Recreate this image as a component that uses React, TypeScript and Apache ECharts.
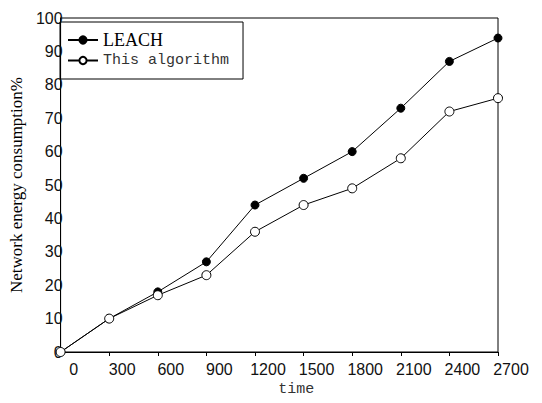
import React, { useEffect, useRef } from "react";
import * as echarts from "echarts";

const xValues = [0, 300, 600, 900, 1200, 1500, 1800, 2100, 2400, 2700];
const leach = [0, 10, 18, 27, 44, 52, 60, 73, 87, 94];
const thisAlgo = [0, 10, 17, 23, 36, 44, 49, 58, 72, 76];
const seriesNames = ["LEACH", "This algorithm"];

export default function App() {
  const ref = useRef<HTMLDivElement>(null);
  useEffect(() => {
    const chart = echarts.init(ref.current!, null, { renderer: "svg" });
    chart.setOption({
      animation: false,
      backgroundColor: "#fff",
      grid: {
        left: 55,
        right: 44,
        top: 18,
        bottom: 51,
        show: true,
        borderColor: "#000",
        borderWidth: 1,
        backgroundColor: "transparent",
      },
      legend: {
        orient: "vertical",
        left: 60,
        top: 22,
        itemWidth: 30,
        itemHeight: 9,
        itemGap: 4,
        padding: [9, 14, 11, 7],
        borderColor: "#000",
        borderWidth: 1,
        data: seriesNames,
        formatter: (name: string) =>
          name === "LEACH" ? "{a|" + name + "}" : "{b|" + name + "}",
        textStyle: {
          color: "#000",
          rich: {
            a: { fontFamily: "Liberation Serif", fontSize: 18, color: "#000" },
            b: { fontFamily: "Liberation Mono", fontSize: 15, color: "#333" },
          },
        },
      },
      xAxis: {
        type: "value",
        min: 0,
        max: 2700,
        interval: 300,
        name: "time",
        nameLocation: "middle",
        nameGap: 27,
        nameTextStyle: {
          fontFamily: "Liberation Mono",
          fontSize: 15,
          color: "#333",
          padding: [0, 0, 0, 34],
        },
        axisLine: { show: true, lineStyle: { color: "#000", width: 1 } },
        axisTick: { show: true, inside: false, length: 4, lineStyle: { color: "#000" } },
        axisLabel: {
          color: "#111",
          fontFamily: "Liberation Sans",
          fontSize: 16,
          margin: 9,
          padding: [0, 0, 0, 26],
          showMaxLabel: true,
          showMinLabel: true,
          formatter: (v: number) => String(v),
        },
        splitLine: { show: false },
      },
      yAxis: {
        type: "value",
        min: 0,
        max: 100,
        interval: 10,
        name: "Network energy consumption%",
        nameLocation: "middle",
        nameGap: 23,
        nameTextStyle: {
          fontFamily: "Liberation Serif",
          fontSize: 17,
          color: "#000",
        },
        axisLine: { show: true, lineStyle: { color: "#000", width: 1 } },
        axisTick: { show: false },
        axisLabel: {
          color: "#111",
          fontFamily: "Liberation Sans",
          fontSize: 16,
          margin: -2,
          formatter: (v: number) => String(v),
        },
        splitLine: { show: false },
      },
      series: [
        {
          name: seriesNames[0],
          type: "line",
          data: xValues.map((x, i) => [x, leach[i]]),
          symbol: "circle",
          symbolSize: 8,
          lineStyle: { color: "#000", width: 1 },
          itemStyle: { color: "#000", borderColor: "#000", borderWidth: 1 },
          clip: false,
        },
        {
          name: seriesNames[1],
          type: "line",
          data: xValues.map((x, i) => [x, thisAlgo[i]]),
          symbol: "circle",
          symbolSize: 9,
          lineStyle: { color: "#000", width: 1 },
          itemStyle: { color: "#fff", borderColor: "#000", borderWidth: 1 },
          clip: false,
        },
      ],
    });
    return () => chart.dispose();
  }, []);
  return <div ref={ref} style={{ width: 542, height: 403, margin: -8 }} />;
}
